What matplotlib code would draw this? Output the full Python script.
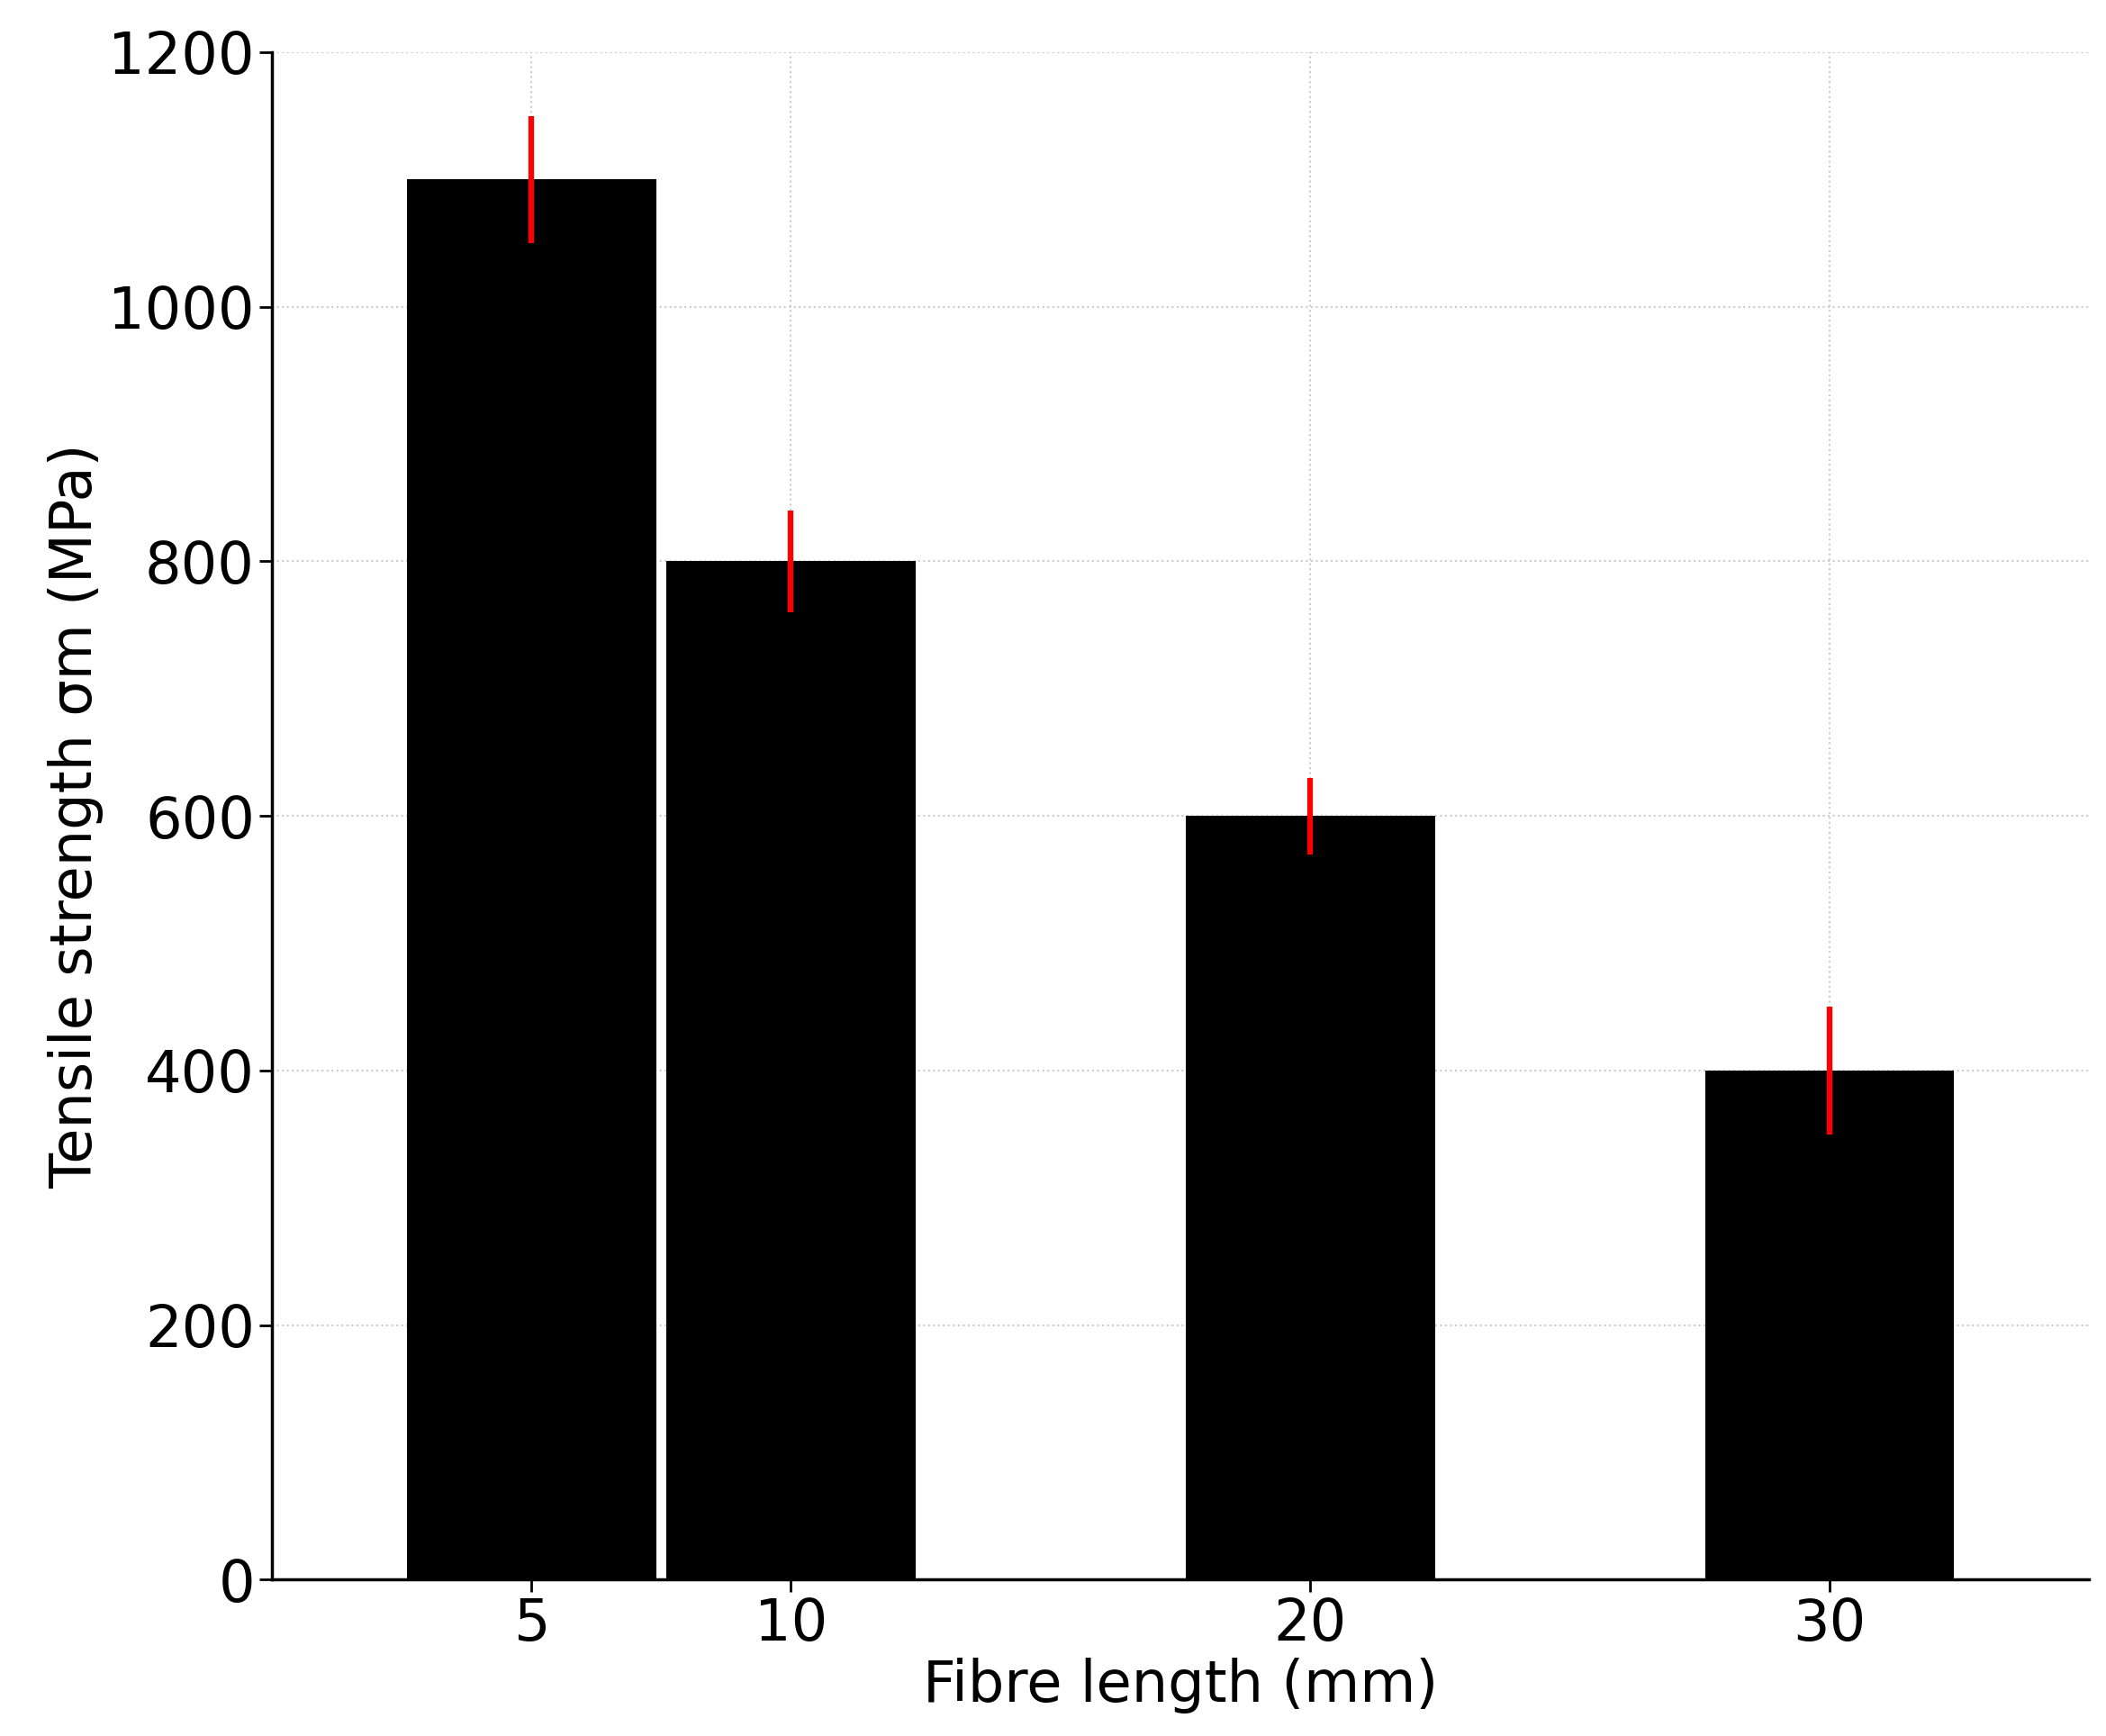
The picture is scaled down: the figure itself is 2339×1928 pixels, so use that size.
import matplotlib
matplotlib.use('Agg')
from matplotlib import pyplot as plt

lengths = [5, 10, 20, 30]
strength = [1100, 800, 600, 400]
errors = [50, 40, 30, 50]

fig = plt.figure(figsize=(23.39, 19.28), dpi=100)
ax = fig.add_axes([0.129, 0.09, 0.863, 0.88])
ax.bar(lengths, strength, width=4.8, color='black', zorder=2)
ax.errorbar(lengths, strength, yerr=errors, fmt='none', ecolor='red', elinewidth=4.5, capsize=0, zorder=3)
ax.set_xlim(0, 35)
ax.set_ylim(0, 1200)
ax.set_xticks(lengths)
ax.set_yticks(range(0, 1201, 200))
ax.grid(True, linestyle=':', color='#cccccc', linewidth=1.5, zorder=0)
ax.set_axisbelow(True)
for s in ['top', 'right']:
    ax.spines[s].set_visible(False)
for s in ['left', 'bottom']:
    ax.spines[s].set_linewidth(2.5)
ax.tick_params(labelsize=46, width=2, length=10)
ax.set_xlabel('Fibre length (mm)', fontsize=46)
ax.set_ylabel('Tensile strength σm (MPa)', fontsize=46)
fig.savefig('out.png', dpi=100)
